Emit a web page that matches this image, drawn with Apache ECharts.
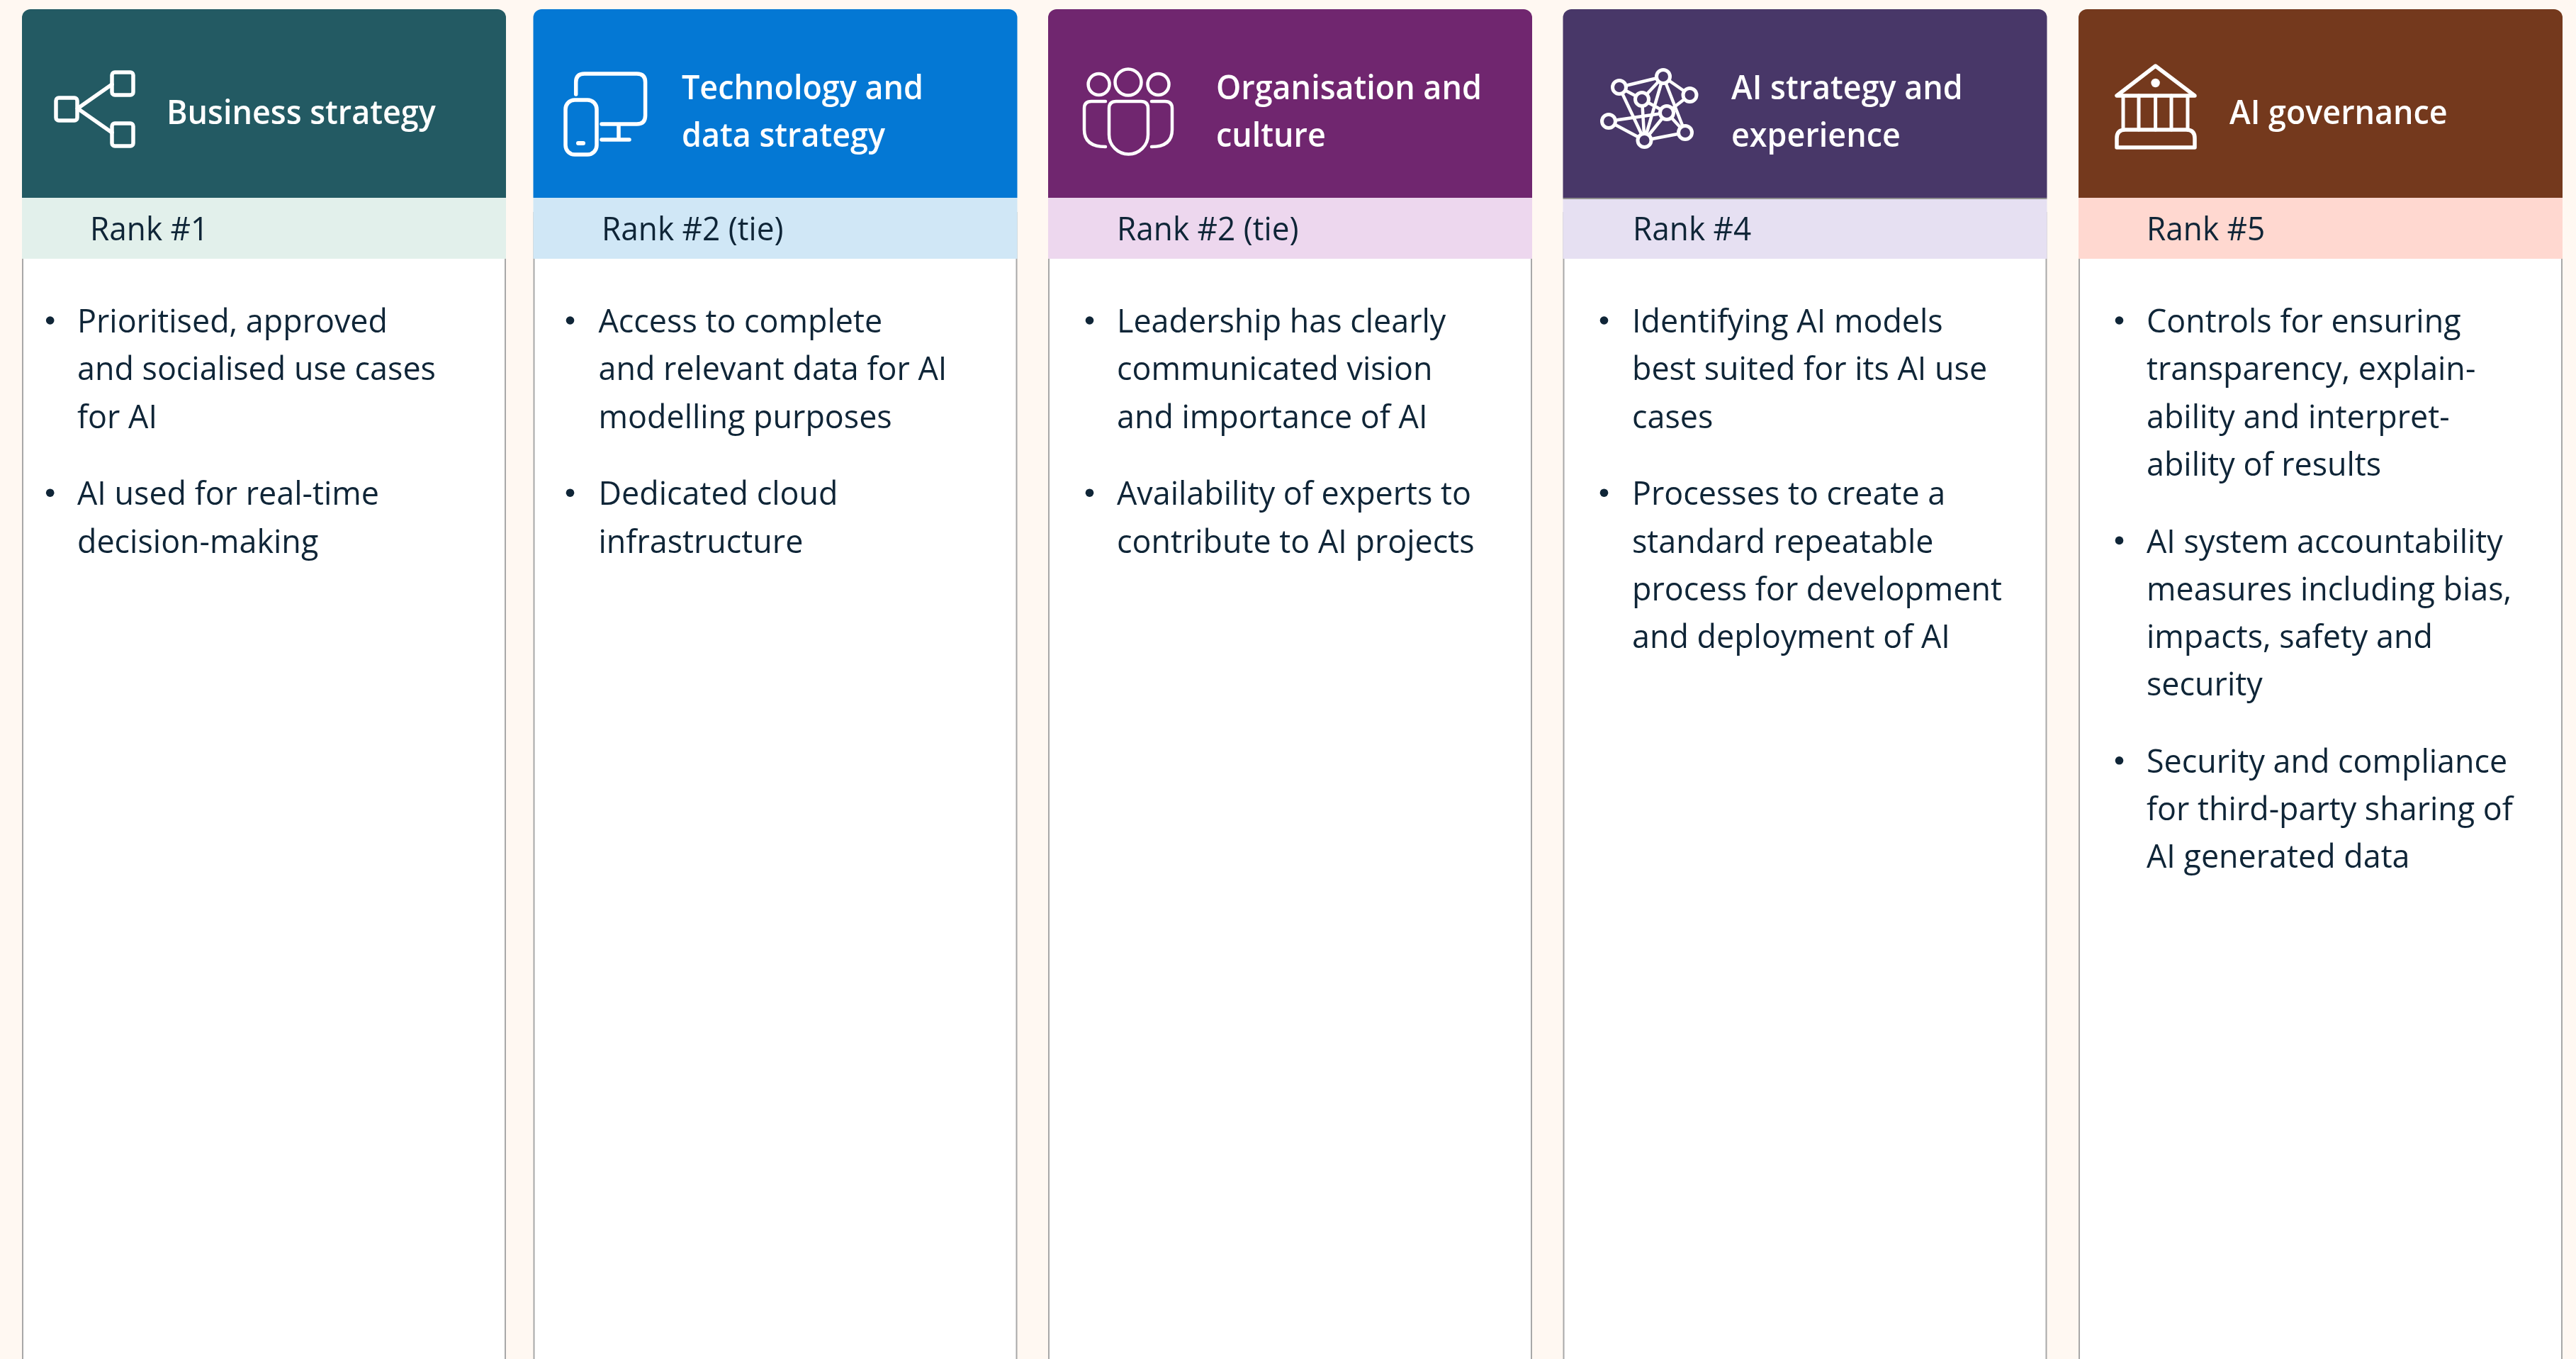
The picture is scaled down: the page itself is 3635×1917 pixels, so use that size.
<!DOCTYPE html>
<html><head><meta charset="utf-8">
<style>html,body{margin:0;padding:0;background:#FFF8F2}#c{width:3635px;height:1917px}</style>
<script src="https://cdn.jsdelivr.net/npm/echarts@6/dist/echarts.min.js"></script>
</head><body><div id="c"></div>
<script>
const titles=[["Business strategy"],["Technology and","data strategy"],["Organisation and","culture"],["AI strategy and","experience"],["AI governance"]];
const ranks=["Rank #1","Rank #2 (tie)","Rank #2 (tie)","Rank #4","Rank #5"];
const bullets=[
 [["Prioritised, approved","and socialised use cases","for AI"],["AI used for real-time","decision-making"]],
 [["Access to complete","and relevant data for AI","modelling purposes"],["Dedicated cloud","infrastructure"]],
 [["Leadership has clearly","communicated vision","and importance of AI"],["Availability of experts to","contribute to AI projects"]],
 [["Identifying AI models","best suited for its AI use","cases"],["Processes to create a","standard repeatable","process for development","and deployment of AI"]],
 [["Controls for ensuring","transparency, explain-","ability and interpret-","ability of results"],["AI system accountability","measures including bias,","impacts, safety and","security"],["Security and compliance","for third-party sharing of","AI generated data"]]
];
const headColors=["#235A63","#0478D4","#70266F","#483768","#74391D"];
const rankColors=["#E2F0EB","#D0E7F6","#EDD7EE","#E6E0F2","#FFD8D0"];
const FONT='"Open Sans","Noto Sans",sans-serif', INK='#0F2537';
const cardX=[31,752.5,1479,2205.5,2933], cardW=683;
const titleX=[235,962,1716,2443,3146], rankX=[127,849,1576,2304,3029], bulletX=[70.7,804.5,1537.5,2263.5,2990.5], textX=[109,844.5,1576,2303,3029];
const g=[];
const txt=(t,x,y,size,fill,weight,sx)=>g.push({type:'text',x,y,scaleX:sx,style:{text:t,fill,font:`${weight||400} ${size}px ${FONT}`,textAlign:'left',textVerticalAlign:'middle'},silent:true});
const ST={stroke:'#fff',lineWidth:5.5,fill:'transparent',lineJoin:'round',lineCap:'round'};
const pidx={n:0};
const path=(d,s)=>{const name='ic'+(pidx.n++);echarts.graphic.registerShape(name,echarts.graphic.extendPath(d));g.push({type:name,style:Object.assign({},ST,s||{}),silent:true});};
titles.forEach((_,i)=>{
  const x=cardX[i];
  g.push({type:'rect',shape:{x:x+1,y:300,width:cardW-2,height:1700},style:{fill:'#fff',stroke:'#a8a8a8',lineWidth:2}});
  g.push({type:'rect',shape:{x,y:13,width:cardW,height:266,r:[12,12,0,0]},style:{fill:headColors[i]}});
  g.push({type:'rect',shape:{x,y:279,width:cardW,height:86},style:{fill:rankColors[i]}});
  if(i===3)g.push({type:'rect',shape:{x,y:279,width:cardW,height:2},style:{fill:'#8f8f8f'}});
  const tY=titles[i].length===1?[162]:[127,194];
  titles[i].forEach((t,k)=>txt(t,titleX[i],tY[k],47,'#fff',600,0.955));
  txt(ranks[i],rankX[i],326,46,INK,400,0.96);
  let y=456;
  bullets[i].forEach(par=>{
    g.push({type:'circle',shape:{cx:bulletX[i],cy:y-4,r:5.8},style:{fill:INK}});
    par.forEach(line=>{txt(line,textX[i],y,46,INK,400,0.975);y+=67.2;});
    y+=41.6;
  });
});
// icons
const rr=(x,y,w,h,r)=>g.push({type:'rect',shape:{x,y,width:w,height:h,r},style:Object.assign({},ST)});
const ln=(a,b,c,d,s)=>g.push({type:'line',shape:{x1:a,y1:b,x2:c,y2:d},style:Object.assign({},ST,s||{}),silent:true});
const arc=(cx,cy,r,s)=>g.push({type:'circle',shape:{cx,cy,r},style:Object.assign({},ST,s||{})});
const poly=(pts)=>g.push({type:'polygon',shape:{points:pts},style:Object.assign({},ST)});
// 1
rr(79,138,30,32,4);rr(158,102,30,32,4);rr(158,174,30,32,4);
ln(109.5,153,158,119);ln(109.5,153,158,187);
// 2
path('M812.7 133 V116 Q812.7 104 824.7 104 H898.6 Q910.6 104 910.6 116 V163 Q910.6 175 898.6 175 H849 M873 175 V197 M849 197 H888');
rr(798,141,44,77,13);
g.push({type:'rect',shape:{x:813,y:199,width:13,height:6,r:3},style:{fill:'#fff'}});
// 3
arc(1550.6,119,15,{lineWidth:4.5});arc(1592,116,18.5,{lineWidth:4.5});arc(1634.5,119,15,{lineWidth:4.5});
const S3={lineWidth:4.5};
path('M1575 143 H1610 Q1620 143 1620 153 V190 A27.5 27.5 0 0 1 1565 190 V153 Q1565 143 1575 143 Z',S3);
path('M1560 143 H1540 Q1530 143 1530 153 V183 Q1530 207 1560 207',S3);
path('M1625 143 H1644 Q1654 143 1654 153 V183 Q1654 207 1625 207',S3);
// 4
const N={A:[2285,123],B:[2347,108],C:[2384.5,134],D:[2317,140],E:[2352,159],F:[2270,171],G:[2378,187],H:[2320.5,198]};
['AB','BC','AD','BD','CE','BG','BH','AH','DH','DE','EG','EH','FE','FH','HG'].forEach(e=>ln(N[e[0]][0],N[e[0]][1],N[e[1]][0],N[e[1]][1],{lineWidth:4.5}));
Object.values(N).forEach(p=>arc(p[0],p[1],9.5,{fill:headColors[3],lineWidth:5}));
// 5
poly([[3041.6,93],[2987,135],[3097,135]]);
g.push({type:'circle',shape:{cx:3041.6,cy:117,r:6.2},style:{fill:'#fff'}});
[2996,3018,3041.6,3064,3087].forEach(x=>ln(x,135,x,183,{lineWidth:5}));
path('M2987 208 H3097 V195 Q3097 183 3085 183 H2999 Q2987 183 2987 195 Z');
const chart=echarts.init(document.getElementById('c'),null,{renderer:'canvas'});
chart.setOption({backgroundColor:'#FFF8F2',animation:false,graphic:{elements:g}});
</script></body></html>
